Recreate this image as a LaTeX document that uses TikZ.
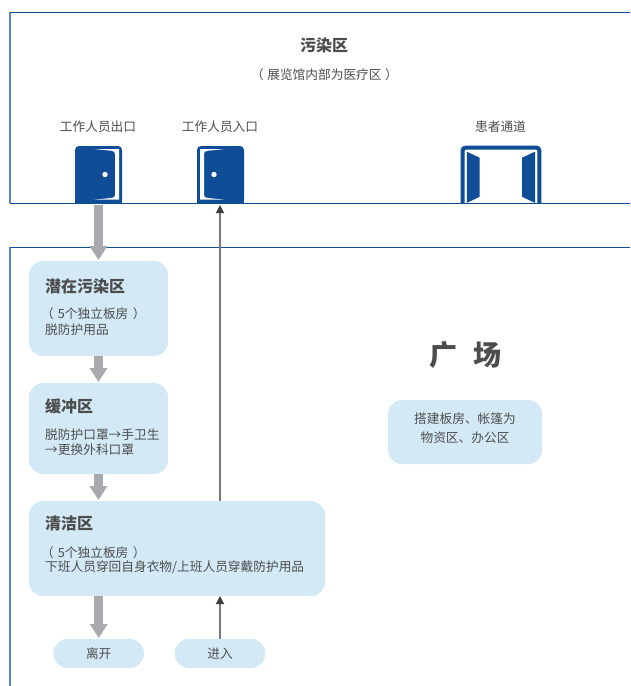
\documentclass[tikz,border=0pt]{standalone}
\usepackage{fontspec}
\setmainfont{Noto Sans CJK SC}
\usetikzlibrary{arrows.meta}
\definecolor{doorblue}{HTML}{0F4E96}
\definecolor{edgeblue}{HTML}{5A88C4}
\definecolor{panel}{HTML}{D3E9F6}
\definecolor{ink}{HTML}{4D4D4D}
\definecolor{flow}{HTML}{A9AAAE}
\definecolor{thin}{HTML}{7A7A7A}
\definecolor{tip}{HTML}{404040}
\newcommand{\sz}[1]{\fontsize{#1}{#1}\selectfont}
\tikzset{
  x=1pt,y=-1pt,
  panelbox/.style={fill=panel,draw=none,rounded corners=14pt,inner sep=0pt,outer sep=0pt},
  pill/.style={fill=panel,draw=none,rounded corners=14pt,inner sep=0pt,outer sep=0pt,minimum width=90.5pt,minimum height=29pt,text=ink,font=\sz{12.7}},
  body/.style={text=ink,font=\sz{12.7},inner sep=0pt,anchor=west},
  bodyc/.style={text=ink,font=\sz{12.7},inner sep=0pt},
  head/.style={text=ink,font=\bfseries\sz{16},inner sep=0pt,anchor=west},
  bigflow/.style={draw=flow,line width=9pt,-{Triangle[width=17pt,length=14pt]},color=flow,shorten >=1pt},
  thinflow/.style={draw=thin,line width=1.1pt,-{Triangle[width=8pt,length=8pt,color=tip]}},
  zone/.style={draw=doorblue,line width=1pt},
  zoneedge/.style={draw=edgeblue,line width=1.2pt},
  doorfill/.style={fill=doorblue,draw=none},
}
\begin{document}
\begin{tikzpicture}
\useasboundingbox (0,0) rectangle (630,686);
\fill[white] (0,0) rectangle (630,686);
% zones
\draw[zoneedge] (10,12) -- (10,203);
\draw[zoneedge] (10,247) -- (10,686);
\draw[zone] (10,12) -- (630,12);
\draw[zone] (10,203.3) -- (630,203.3);
\draw[zone] (10,247) -- (630,247);
% top texts
\node[text=ink,font=\bfseries\sz{16},inner sep=0pt] (t1) at (324,45) {污染区};
\node[bodyc] (t2) at (324.5,75) {（\hspace{3.5pt}展览馆内部为医疗区\hspace{3.5pt}）};
\node[bodyc] (t3) at (98,127) {工作人员出口};
\node[bodyc] (t4) at (220,127) {工作人员入口};
\node[bodyc] (t5) at (500.5,127) {患者通道};
% door out
\fill[doorfill,rounded corners=4pt] (75,203.5) -- (75,146) -- (122,146) -- (122,203.5) [sharp corners] -- cycle;
\fill[doorfill] (75,160) rectangle (122,203.5);
\fill[white] (94,149) -- (119,149) -- (119,199.7) -- (94,199.7) -- (111,198) .. controls (114,197.7) and (115,197) .. (115,195) -- (115,154) .. controls (115,152) and (114,151) .. (111,150.7) -- cycle;
\fill[white] (105,174.5) circle[radius=2.7];
\coordinate (doorOut) at (98.5,205);
% door in
\fill[doorfill,rounded corners=4pt] (197,203.5) -- (197,146) -- (244,146) -- (244,203.5) [sharp corners] -- cycle;
\fill[doorfill] (197,160) rectangle (244,203.5);
\fill[white] (225,149) -- (200,149) -- (200,199.7) -- (225,199.7) -- (208,198) .. controls (205,197.7) and (204,197) .. (204,195) -- (204,154) .. controls (204,152) and (205,151) .. (208,150.7) -- cycle;
\fill[white] (214,174.5) circle[radius=2.7];
\coordinate (doorIn) at (220,205);
% patient door
\draw[draw=doorblue,line width=4pt,rounded corners=3pt] (462.6,203) -- (462.6,147.6) -- (539.4,147.6) -- (539.4,203);
\fill[doorfill] (466.8,151.7) -- (479.7,157.7) -- (479.7,196.7) -- (466.8,202.9) -- cycle;
\fill[doorfill] (535,151.7) -- (522,157.7) -- (522,196.7) -- (535,202.9) -- cycle;
% boxes
\node[panelbox,minimum width=139pt,minimum height=95pt] (qz) at (98.5,308.5) {};
\node[panelbox,minimum width=139pt,minimum height=91pt] (hc) at (98.5,428.5) {};
\node[panelbox,minimum width=296pt,minimum height=95pt] (qj) at (177,548.5) {};
\node[panelbox,minimum width=154pt,minimum height=64pt] (dj) at (465,432) {};
\node[pill] (lk) at (98.7,653.5) {离开};
\node[pill] (jr) at (220,653.5) {进入};
% box texts
\node[head] (a1) at (45,286) {潜在污染区};
\node[body] (a2) at (41,314) {（\hspace{4pt}5个独立板房\hspace{4.5pt}）};
\node[body] (a3) at (45,330) {脱防护用品};
\node[head] (b1) at (45,406) {缓冲区};
\node[body] (b2) at (45,435) {脱防护口罩→手卫生};
\node[body] (b3) at (45,450) {→更换外科口罩};
\node[head] (c1) at (45,523) {清洁区};
\node[body] (c2) at (41,553) {（\hspace{4pt}5个独立板房\hspace{4.5pt}）};
\node[body] (c3) at (45,567) {下班人员穿回自身衣物/上班人员穿戴防护用品};
\node[bodyc] (d1) at (465,419) {搭建板房、帐篷为};
\node[bodyc] (d2) at (465,438) {物资区、办公区};
\node[text=ink,font=\bfseries\sz{28},inner sep=0pt] (g1) at (443,355) {广};
\node[text=ink,font=\bfseries\sz{28},inner sep=0pt] (g2) at (487,355) {场};
% connectors
\draw[bigflow] (doorOut) -- (doorOut |- qz.north);
\draw[bigflow] (qz.south) -- (hc.north);
\draw[bigflow] (hc.south) -- (hc.south |- qj.north);
\draw[bigflow] (qj.south -| lk.north) -- (lk.north);
\draw[thinflow] (qj.north -| doorIn) -- (doorIn);
\draw[thinflow] (jr.north) -- (jr.north |- qj.south);
\end{tikzpicture}
\end{document}
